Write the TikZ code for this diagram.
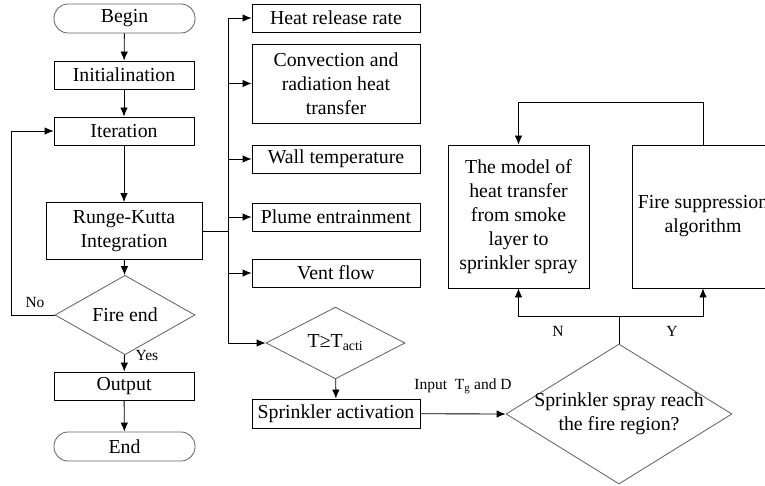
\documentclass[tikz,border=0pt]{standalone}
\usepackage{fontspec}
\setmainfont{Liberation Serif}
\usetikzlibrary{shapes.geometric, arrows.meta}
\tikzset{
  box/.style={draw, minimum width=140pt, minimum height=28pt, inner sep=0pt, align=center},
  term/.style={draw=black!60, rounded corners=14pt, minimum width=141pt, minimum height=29pt, inner sep=0pt},
  decide/.style={draw=black!60, diamond, inner sep=0pt},
  lbl/.style={font=\rmfamily\fontsize{15.5}{18}\selectfont}
}
\begin{document}
\begin{tikzpicture}[>={Latex[length=9pt,width=7.5pt]}, x=1pt, y=-1pt, line width=0.85pt, font=\rmfamily\fontsize{19.8}{24}\selectfont]
\clip (0,0) rectangle (765,486);

% main loop
\node[term] (begin) at (124.5,18.5) {Begin};
\node[box] (init) at (124,75) {Initialination};
\node[box] (iter) at (124,131) {Iteration};
\node[box, minimum width=156pt, minimum height=57pt] (rk) at (124,231) {Runge-Kutta\\Integration};
\node[decide, minimum width=140pt, minimum height=56pt] (fend) at (125,315) {Fire end};
\node[box] (out) at (124,386) {Output};
\node[term] (end) at (124.5,446.5) {End};

\draw[->] (begin) -- (init);
\draw[->] (init) -- (iter);
\draw[->] (iter) -- (rk);
\draw[->] (rk) -- (fend);
\draw[->] (fend) -- (out);
\draw[->] (out) -- (end);
\draw[->] (fend.west) -- ++(-43,0) |- (iter.west);
\node[lbl] (no) at (35,303) {No};
\node[lbl] (yes) at (147,355) {Yes};

% sub-models
\coordinate (busTop) at (228,18);
\coordinate (busBot) at (228,343);
\draw (rk.east) -- (busTop |- rk.east);
\draw (busTop) -- (busBot);
\foreach \n/\y/\h/\t in {hrr/18/28/Heat release rate, conv/83.5/79/{Convection and\\radiation heat\\transfer}, wall/159/28/Wall temperature, plume/217/28/Plume entrainment, vent/273/28/Vent flow}
{
    \node[box, minimum width=168pt, minimum height=\h pt] (\n) at (336,\y) {\t};
    \draw[->] (busTop |- \n.west) -- (\n.west);
}

% sprinkler
\node[decide, minimum width=139pt, minimum height=56pt] (tact) at (335.5,343) {T≥T\textsubscript{acti}};
\node[box, minimum width=168pt, minimum height=29pt] (spr) at (336,413.5) {Sprinkler activation};
\draw[->] (busBot) -- (tact.west);
\draw[->] (tact) -- (spr);

\node[decide, minimum width=226pt, minimum height=140pt] (reach) at (619,414) {};
\node[align=center] (reachtxt) at (reach) {Sprinkler spray reach\\the fire region?};
\draw[->] (spr) -- (reach.west);
\node[lbl] (input) at (463,386) {Input\ \ T\textsubscript{g} and D};

\node[box, minimum width=141pt, minimum height=143pt] (model) at (518.5,216.5) {The model of\\heat transfer\\from smoke\\layer to\\sprinkler spray};
\node[box, minimum width=141pt, minimum height=143pt] (supp) at (703,216.5) {Fire suppression\\algorithm};

\draw (reach.north) -- ++(0,-27) coordinate (split);
\draw[->] (split) -| (model.south);
\draw[->] (split) -| (supp.south);
\draw[->] (supp.north) -- ++(0,-42) -| (model.north);
\node[lbl] (nlbl) at (558,331) {N};
\node[lbl] (ylbl) at (672,331) {Y};

\end{tikzpicture}
\end{document}
